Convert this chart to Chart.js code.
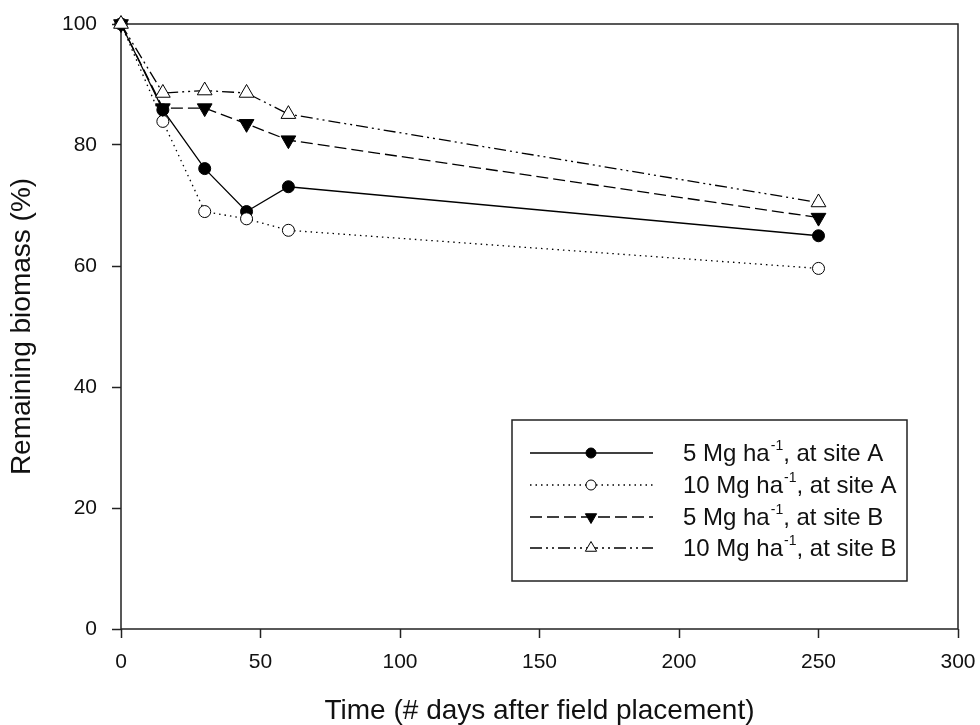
<!DOCTYPE html>
<html><head><meta charset="utf-8">
<script src="https://cdn.jsdelivr.net/npm/chart.js@4/dist/chart.umd.min.js"></script>
<style>html,body{margin:0;padding:0;background:#fff}#wrap{width:980px;height:725px;position:relative}</style>
</head><body><div id="wrap"><canvas id="c" width="980" height="725"></canvas></div>
<script>
// ---- data ----
const days = [0, 15, 30, 45, 60, 250];
const siteA5 = [100, 85.8, 76.1, 69.0, 73.1, 65.0];
const siteA10 = [100, 83.9, 69.0, 67.8, 65.9, 59.6];
const siteB5 = [100, 86.1, 86.1, 83.5, 80.8, 68.0];
const siteB10 = [100, 88.6, 89.0, 88.6, 85.1, 70.5];
const legendMain = ['5 Mg ha', '10 Mg ha', '5 Mg ha', '10 Mg ha'];
const legendSup = ['-1', '-1', '-1', '-1'];
const legendTail = [', at site A', ', at site A', ', at site B', ', at site B'];
const xTicks = [0, 50, 100, 150, 200, 250, 300];
const yTicks = [0, 20, 40, 60, 80, 100];
const xTitle = 'Time (# days after field placement)';
const yTitle = 'Remaining biomass (%)';

const FONT = '"Liberation Sans", Arial, sans-serif';
const pts = arr => days.map((d, i) => ({x: d, y: arr[i]}));

const styles = [
  {dash: [], pointStyle: 'circle', radius: 6, rotation: 0, fill: '#000', lr: 5},
  {dash: [1.5, 4], pointStyle: 'circle', radius: 6, rotation: 0, fill: '#fff', lr: 5},
  {dash: [12, 5], pointStyle: 'triangle', radius: 8.5, rotation: 180, fill: '#000', lr: 6.5},
  {dash: [12, 4, 2, 4, 2, 4], pointStyle: 'triangle', radius: 8.5, rotation: 0, fill: '#fff', lr: 6.5}
];
const series = [siteA5, siteA10, siteB5, siteB10];

const datasets = series.map((s, i) => ({
  label: legendMain[i] + legendSup[i] + legendTail[i],
  data: pts(s),
  borderColor: '#000',
  borderWidth: 1.3,
  borderDash: styles[i].dash,
  backgroundColor: styles[i].fill,
  pointBackgroundColor: styles[i].fill,
  pointBorderColor: '#000',
  pointBorderWidth: 1,
  pointStyle: styles[i].pointStyle,
  pointRadius: styles[i].radius,
  pointRotation: styles[i].rotation,
  tension: 0,
  clip: false,
  order: 4 - i
}));

const framePlugin = {
  id: 'frame',
  beforeDatasetsDraw(chart) {
    const {ctx, chartArea: a} = chart;
    ctx.save();
    ctx.strokeStyle = '#222';
    ctx.lineWidth = 1.5;
    ctx.strokeRect(a.left, a.top, a.right - a.left, a.bottom - a.top);
    ctx.restore();
  }
};

const legendPlugin = {
  id: 'customLegend',
  afterDraw(chart) {
    const ctx = chart.ctx;
    const box = {l: 512, t: 420, r: 907, b: 581};
    ctx.save();
    ctx.strokeStyle = '#222';
    ctx.lineWidth = 1.5;
    ctx.strokeRect(box.l, box.t, box.r - box.l, box.b - box.t);
    const rows = [453, 485, 517, 548];
    rows.forEach((y, i) => {
      const st = styles[i];
      ctx.strokeStyle = '#000';
      ctx.lineWidth = 1.3;
      ctx.setLineDash(st.dash);
      ctx.beginPath();
      ctx.moveTo(530, y); ctx.lineTo(653, y);
      ctx.stroke();
      ctx.setLineDash([]);
      ctx.fillStyle = st.fill;
      ctx.strokeStyle = '#000';
      ctx.lineWidth = 1;
      Chart.helpers.drawPoint(ctx, {pointStyle: st.pointStyle, radius: st.lr, rotation: st.rotation, borderWidth: 1}, 591, y);
      ctx.fillStyle = '#111';
      ctx.textBaseline = 'middle';
      ctx.textAlign = 'left';
      ctx.font = '24px ' + FONT;
      let x = 683;
      ctx.fillText(legendMain[i], x, y + 1);
      x += ctx.measureText(legendMain[i]).width + 1;
      ctx.font = '14px ' + FONT;
      ctx.fillText(legendSup[i], x, y - 7);
      x += ctx.measureText(legendSup[i]).width;
      ctx.font = '24px ' + FONT;
      ctx.fillText(legendTail[i], x, y + 1);
    });
    ctx.restore();
  }
};

new Chart(document.getElementById('c'), {
  type: 'line',
  data: {datasets},
  plugins: [framePlugin, legendPlugin],
  options: {
    responsive: false,
    animation: false,
    devicePixelRatio: 1,
    layout: {padding: {top: 24, right: 22, left: 0, bottom: 0}},
    plugins: {legend: {display: false}, tooltip: {enabled: false}},
    scales: {
      x: {
        type: 'linear', min: 0, max: 300,
        afterBuildTicks: s => { s.ticks = xTicks.map(v => ({value: v})); },
        afterFit: s => { s.height = 96; s.paddingLeft = 0; s.paddingRight = 0; },
        ticks: {color: '#111', font: {family: FONT, size: 21}, padding: 12, maxRotation: 0},
        grid: {display: true, drawOnChartArea: false, drawTicks: true, tickLength: 9, tickColor: '#222', tickWidth: 1.5},
        border: {display: false},
        title: {display: true, text: xTitle, color: '#111', font: {family: FONT, size: 28, lineHeight: 1}, padding: {top: 0, bottom: 0}}
      },
      y: {
        type: 'linear', min: 0, max: 100,
        afterBuildTicks: s => { s.ticks = yTicks.map(v => ({value: v})); },
        afterFit: s => { s.width = 121; s.paddingTop = 0; s.paddingBottom = 0; },
        ticks: {color: '#111', font: {family: FONT, size: 21}, padding: 15},
        grid: {display: true, drawOnChartArea: false, drawTicks: true, tickLength: 9, tickColor: '#222', tickWidth: 1.5},
        border: {display: false},
        title: {display: true, text: yTitle, color: '#111', font: {family: FONT, size: 28, lineHeight: 1}, padding: {top: 8, bottom: 0}}
      }
    }
  }
});
</script>
</body></html>
